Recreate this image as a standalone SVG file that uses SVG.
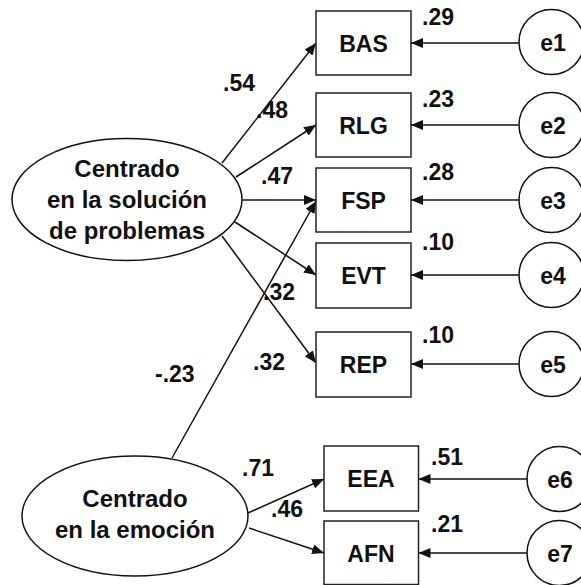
<svg xmlns="http://www.w3.org/2000/svg" width="581" height="585" viewBox="0 0 581 585">
<style>
text{font-family:"Liberation Sans",Arial,sans-serif;font-weight:bold;fill:#111;font-size:23px}
.box{fill:#fff;stroke:#222;stroke-width:1.5}
.lat{fill:#fff;stroke:#111;stroke-width:1.5}
.mid{text-anchor:middle}
.big{font-size:24px}
.c{fill:none;stroke:#111;stroke-width:1.5}
</style>
<defs>
<marker id="ah" viewBox="0 0 12 10" refX="12" refY="5" markerWidth="12" markerHeight="10" markerUnits="userSpaceOnUse" orient="auto">
<path d="M0,0 L12,5 L0,10 Z" fill="#111"/>
</marker>
</defs>
<rect width="581" height="585" fill="#fff"/>
<g id="connectors">
<line class="c" x1="222" y1="163" x2="316" y2="43" marker-end="url(#ah)"/>
<line class="c" x1="236" y1="177" x2="316" y2="125" marker-end="url(#ah)"/>
<line class="c" x1="242" y1="200" x2="316" y2="200" marker-end="url(#ah)"/>
<line class="c" x1="235" y1="222" x2="316" y2="275" marker-end="url(#ah)"/>
<line class="c" x1="222" y1="236" x2="316" y2="363" marker-end="url(#ah)"/>
<line class="c" x1="172" y1="458" x2="316" y2="201" marker-end="url(#ah)"/>
<line class="c" x1="248" y1="513" x2="324" y2="479" marker-end="url(#ah)"/>
<line class="c" x1="249" y1="528" x2="324" y2="553" marker-end="url(#ah)"/>
<line class="c" x1="519.5" y1="43" x2="411" y2="43" marker-end="url(#ah)"/>
<line class="c" x1="519.5" y1="125" x2="411" y2="125" marker-end="url(#ah)"/>
<line class="c" x1="519.5" y1="200" x2="411" y2="200" marker-end="url(#ah)"/>
<line class="c" x1="519.5" y1="275" x2="411" y2="275" marker-end="url(#ah)"/>
<line class="c" x1="519.5" y1="364" x2="411" y2="364" marker-end="url(#ah)"/>
<line class="c" x1="527" y1="479" x2="418.5" y2="479" marker-end="url(#ah)"/>
<line class="c" x1="527" y1="553" x2="418.5" y2="553" marker-end="url(#ah)"/>
<text x="223" y="91">.54</text>
<text x="256" y="118">.48</text>
<text x="261" y="184">.47</text>
<text x="263" y="300">.32</text>
<text x="253" y="370">.32</text>
<text x="155" y="382">-.23</text>
<text x="242" y="476">.71</text>
<text x="271" y="517">.46</text>
</g>
<g id="f1"><ellipse class="lat" cx="127" cy="199.5" rx="115" ry="61"/>
<text class="mid big" x="127" y="177">Centrado</text>
<text class="mid big" x="127" y="208">en la solución</text>
<text class="mid big" x="127" y="239">de problemas</text></g>
<g id="f2"><ellipse class="lat" cx="135" cy="516" rx="113" ry="60"/>
<text class="mid big" x="135" y="507">Centrado</text>
<text class="mid big" x="135" y="538">en la emoción</text></g>
<g id="BAS"><rect class="box" x="316" y="11" width="95" height="64"/><text class="mid" x="363.5" y="51.5">BAS</text><text x="422" y="25">.29</text></g>
<g id="RLG"><rect class="box" x="316" y="93" width="95" height="64"/><text class="mid" x="363.5" y="133.5">RLG</text><text x="422" y="107">.23</text></g>
<g id="FSP"><rect class="box" x="316" y="168" width="95" height="64"/><text class="mid" x="363.5" y="208.5">FSP</text><text x="422" y="180">.28</text></g>
<g id="EVT"><rect class="box" x="316" y="243" width="95" height="65"/><text class="mid" x="363.5" y="283.5">EVT</text><text x="422" y="250">.10</text></g>
<g id="REP"><rect class="box" x="316" y="332" width="95" height="65"/><text class="mid" x="363.5" y="372.5">REP</text><text x="422" y="343">.10</text></g>
<g id="EEA"><rect class="box" x="324" y="446" width="94.5" height="65"/><text class="mid" x="371" y="487">EEA</text><text x="431" y="465">.51</text></g>
<g id="AFN"><rect class="box" x="324" y="521" width="94.5" height="63.5"/><text class="mid" x="371" y="561.5">AFN</text><text x="431" y="532">.21</text></g>
<g id="e1"><circle class="lat" cx="551.5" cy="42" r="32.5"/><text class="mid" x="553" y="50.5">e1</text></g>
<g id="e2"><circle class="lat" cx="551.5" cy="125" r="32.5"/><text class="mid" x="553" y="133.5">e2</text></g>
<g id="e3"><circle class="lat" cx="551.5" cy="200" r="32.5"/><text class="mid" x="553" y="208.5">e3</text></g>
<g id="e4"><circle class="lat" cx="551.5" cy="275" r="32.5"/><text class="mid" x="553" y="283.5">e4</text></g>
<g id="e5"><circle class="lat" cx="551.5" cy="364" r="32.5"/><text class="mid" x="553" y="372.5">e5</text></g>
<g id="e6"><circle class="lat" cx="559.5" cy="479" r="32.5"/><text class="mid" x="560" y="487.5">e6</text></g>
<g id="e7"><circle class="lat" cx="559.5" cy="553" r="32.5"/><text class="mid" x="560" y="561.5">e7</text></g>
</svg>
